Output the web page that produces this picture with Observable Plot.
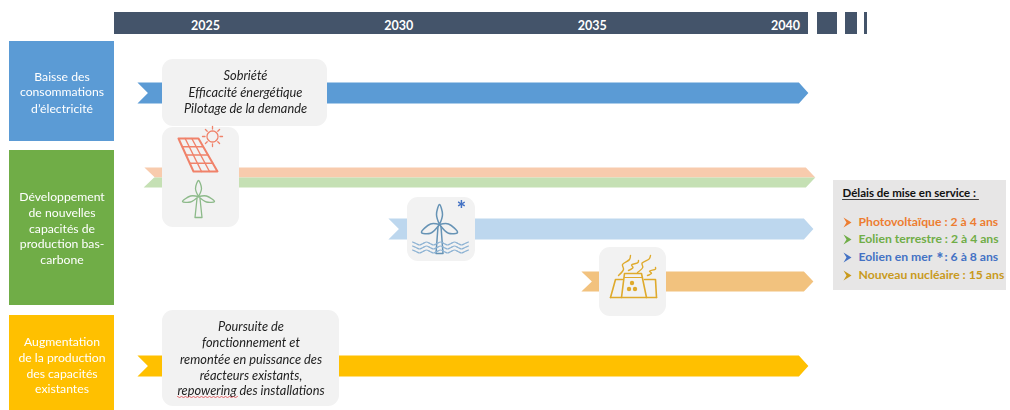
<!DOCTYPE html>
<html><head><meta charset="utf-8">
<script src="https://cdn.jsdelivr.net/npm/d3@7"></script>
<script src="https://cdn.jsdelivr.net/npm/@observablehq/plot@0.6"></script>
<style>html,body{margin:0;padding:0;background:#fff}svg{display:block;filter:blur(.4px)}</style>
</head><body><div id="chart"></div>
<script>
// Timeline
const years = [2025, 2030, 2035, 2040];
const yearsPerPx = 1 / 38.67;
const X = p => 2025 + (p - 205) * yearsPerPx; // page position -> year, for layout elements

// Arrows (period covered, in years)
const arrowNames  = ["baisse", "pv", "eolien", "mer", "nucleaire", "existant"];
const arrowStart  = [2023.24, 2023.42, 2023.40, 2029.73, 2034.72, 2023.24];
const arrowEnd    = [2040.59, 2040.77, 2040.77, 2040.72, 2040.72, 2040.59];
const arrowTop    = [82, 167, 177, 218, 271, 355];
const arrowBottom = [103, 177, 187, 239, 291, 376];
const arrowTip    = [92.5, 177, 177, 228.5, 281, 365.5];
const arrowNotch  = [92.5, 177, 177, 228.5, 281, 365.5];
const arrowColors = ["#5b9bd5", "#f8cbad", "#c5e0b4", "#bdd7ee", "#f2c27e", "#ffc000"];

// Category blocks
const catColors = ["#5b9bd5", "#70ad47", "#ffc000"];
const catTop = [41, 150, 315];
const catBottom = [141, 305, 410];
const catLines = [
  [["Baisse des", 77], ["consommations", 92], ["d’électricité", 109]],
  [["Développement", 197], ["de nouvelles", 213], ["capacités de", 229], ["production bas-", 244], ["carbone", 260]],
  [["Augmentation", 342], ["de la production", 358], ["des capacités", 374], ["existantes", 389]]
];

// Grey cards
const cardLeft = [162, 162, 407, 599, 162];
const cardRight = [327, 239, 475, 666, 339];
const cardTop = [59, 127, 197, 247, 310];
const cardBottom = [126, 227, 261, 316, 406];
const cardLines = [
  [245, [["Sobriété", 75], ["Efficacité énergétique", 92], ["Pilotage de la demande", 108]]],
  [250.5, [["Poursuite de", 326], ["fonctionnement et", 342], ["remontée en puissance des", 359], ["réacteurs existants,", 375], ["repowering des installations", 390]]]
];

// Legend
const legendTitle = "Délais de mise en service :";
const legendLabels = ["Photovoltaïque : 2 à 4 ans", "Eolien terrestre : 2 à 4 ans", "Eolien en mer", "Nouveau nucléaire : 15 ans"];
const legendColors = ["#ed7d31", "#70ad47", "#4472c4", "#c99a1c"];
const legendY = [222, 239, 257, 275];

const FONT = "Lato, sans-serif";
const marks = [];

// helpers
const poly = (pts, fill) => Plot.line(pts.map(([x, y]) => ({x, y})), {x: "x", y: "y", fill, stroke: "none"});
const stroke = (pts, color, w = 1, curve = "linear") =>
  Plot.line(pts.map(([p, y]) => ({x: X(p), y})), {x: "x", y: "y", stroke: color, strokeWidth: w, curve});
const txt = (t, p, y, o = {}) =>
  Plot.text([t], {text: d => d, x: () => X(p), y: () => y, fontFamily: FONT, lineAnchor: "middle", ...o});
const box = (l, r, t, b, fill, rx) =>
  Plot.rect([0], {x1: () => X(l), x2: () => X(r), y1: () => t, y2: () => b, fill, rx});

// header
[[114, 808], [817, 837], [845, 857], [864, 867]].forEach(([l, r]) => marks.push(box(l, r, 12, 34, "#44546a")));
marks.push(Plot.text(years, {x: d => d, y: () => 25.5, text: d => String(d), fill: "#fff", fontWeight: 700, fontSize: 12.5, fontFamily: FONT, lineAnchor: "middle"}));

// category blocks
catColors.forEach((c, i) => {
  marks.push(box(9, 114, catTop[i], catBottom[i], c));
  catLines[i].forEach(([t, y]) => marks.push(txt(t, 61.5, y, {fill: "#fff", fontSize: 12.2})));
});

// arrows
arrowNames.forEach((n, i) => {
  const s = arrowStart[i], e = arrowEnd[i], t = arrowTop[i], b = arrowBottom[i];
  const head = 9.5 * yearsPerPx, notch = 10.5 * yearsPerPx;
  marks.push(poly([[s, t], [e - head, t], [e, arrowTip[i]], [e - head, b], [s, b], [s + notch, arrowNotch[i]]], arrowColors[i]));
});

// cards
cardLeft.forEach((l, i) => marks.push(box(l, cardRight[i], cardTop[i], cardBottom[i], "#f2f2f2", 11)));
cardLines.forEach(([p, rows]) => rows.forEach(([t, y]) =>
  marks.push(txt(t, p, y, {fill: "#222", fontStyle: "italic", fontSize: 12.8}))));
// spelling squiggle under "repowering"
const sq = [];
for (let p = 177; p <= 238; p += 2) sq.push([p, 396 + ((p - 177) % 4 ? 1 : 0)]);
marks.push(stroke(sq, "#e0454a", .8));

// solar panel icon
const sol = "#f0826a";
marks.push(stroke([[178, 138], [198, 138], [217, 171], [193, 171], [178, 138]], sol, 2));
[1, 2, 3].forEach(k => {
  const f = k / 4;
  marks.push(stroke([[178 + 15 * f, 138 + 33 * f], [198 + 19 * f, 138 + 33 * f]], sol, 1.4));
});
[1, 2].forEach(k => {
  const f = k / 3;
  marks.push(stroke([[178 + 20 * f, 138], [193 + 24 * f, 171]], sol, 1.4));
});
const sun = [];
for (let a = 0; a <= 24; a++) sun.push([212 + 5.5 * Math.cos(a * Math.PI / 12), 136 + 5.5 * Math.sin(a * Math.PI / 12)]);
marks.push(stroke(sun, sol, 1.3));
for (let a = 0; a < 8; a++) {
  const c = Math.cos(a * Math.PI / 4), d = Math.sin(a * Math.PI / 4);
  marks.push(stroke([[212 + 7.5 * c, 136 + 7.5 * d], [212 + 10 * c, 136 + 10 * d]], sol, 1.3));
}

// turbine helper: hub, tip-of-blade positions, tower foot
const turbine = (hx, hy, top, side, sideY, foot, color, w) => {
  marks.push(stroke([[hx, hy], [hx - 3, hy - (hy - top) * .5], [hx, top], [hx + 3, hy - (hy - top) * .5], [hx, hy]], color, w, "catmull-rom"));
  marks.push(stroke([[hx, hy], [hx - side * .5, hy - .5], [hx - side, sideY], [hx - side * .5, hy + (sideY - hy) * 1.1], [hx, hy]], color, w, "catmull-rom"));
  marks.push(stroke([[hx, hy], [hx + side * .5, hy - .5], [hx + side, sideY], [hx + side * .5, hy + (sideY - hy) * 1.1], [hx, hy]], color, w, "catmull-rom"));
  marks.push(stroke([[hx - 1.5, hy + 2], [hx - 3.5, foot], [hx + 3.5, foot], [hx + 1.5, hy + 2]], color, w));
};
turbine(198, 196, 180, 16, 201, 217, "#8dba8a", 1.3);
turbine(439, 224, 204, 18, 232, 253, "#6693b5", 1.5);

// waves under the offshore turbine
[243, 247, 251].forEach(y => {
  const w = [];
  for (let p = 412; p <= 468; p += 3.5) w.push([p, y + ((p - 412) % 14 === 0 ? -1.5 : (p - 412) % 14 === 7 ? 1.5 : 0)]);
  marks.push(stroke(w, "#8fb4d4", 1.2, "catmull-rom"));
});
marks.push(txt("*", 461, 209, {fill: "#4472c4", fontSize: 22, fontWeight: 900}));

// nuclear plant icon
const nuc = "#dfaa2c";
marks.push(stroke([[621, 297], [624, 273], [641, 273], [646, 297]], nuc, 1.6));
marks.push(stroke([[610, 297], [656, 297]], nuc, 1.6));
marks.push(stroke([[610, 297], [615, 279], [622, 279]], nuc, 1.6));
marks.push(stroke([[644, 279], [655, 279], [656, 297]], nuc, 1.6));
marks.push(stroke([[624, 277], [642, 277]], nuc, 1.2));
[[618, 275, 630, 255], [628, 270, 638, 260], [637, 272, 650, 255], [647, 275, 655, 267]].forEach(([a, b, c, d]) =>
  marks.push(stroke([[a, b], [a + (c - a) * .25 + 2, b + (d - b) * .3], [a + (c - a) * .5 - 2, b + (d - b) * .55], [a + (c - a) * .75 + 2, b + (d - b) * .8], [c, d]], nuc, 1.4, "catmull-rom")));
[[632, 283], [629, 289], [635, 289]].forEach(([p, y]) => marks.push(box(p - 2.2, p + 2.2, y - 2.2, y + 2.2, nuc, 2.2)));

// legend
marks.push(box(833, 1006, 180, 290, "#e7e6e6"));
marks.push(txt(legendTitle, 842, 193, {textAnchor: "start", fontWeight: 700, fontSize: 11.5, fill: "#111"}));
marks.push(stroke([[842, 199], [978, 199]], "#111", .8));
legendLabels.forEach((t, i) => {
  const y = legendY[i], c = legendColors[i];
  marks.push(poly([[843, y - 5], [851, y], [843, y + 5], [846, y]].map(([p, q]) => [X(p), q]), c));
  marks.push(txt(t, 858, y, {textAnchor: "start", fontWeight: 700, fontSize: 12.2, fill: c}));
});
marks.push(txt("*", 936, 259, {textAnchor: "start", fontWeight: 900, fontSize: 16, fill: "#4472c4"}));
marks.push(txt(": 6 à 8 ans", 944, 257, {textAnchor: "start", fontWeight: 700, fontSize: 12.2, fill: "#4472c4"}));

const chart = Plot.plot({
  width: 1010, height: 410,
  marginTop: 0, marginRight: 0, marginBottom: 0, marginLeft: 0,
  x: {domain: [X(0), X(1010)], range: [0, 1010], axis: null},
  y: {domain: [0, 410], range: [0, 410], axis: null},
  marks
});
document.getElementById("chart").append(chart);
</script>
</body></html>
